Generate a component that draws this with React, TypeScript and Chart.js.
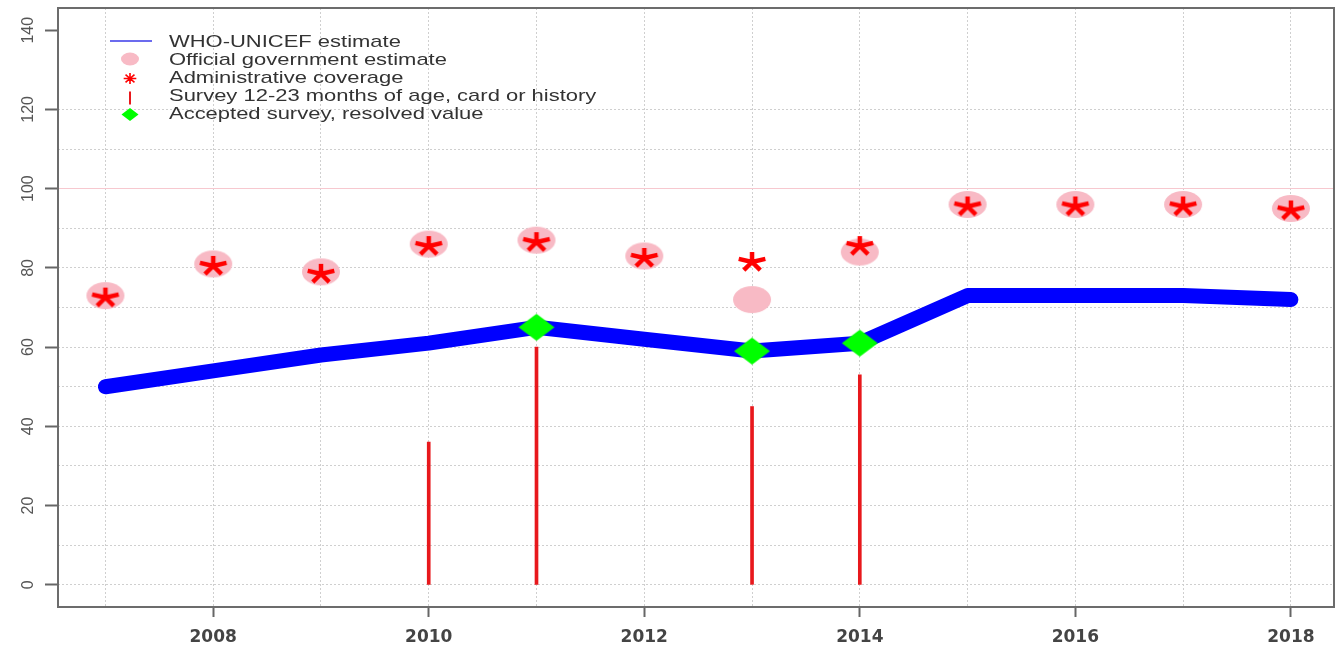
import React, { useEffect, useRef } from 'react';
import { Chart, registerables } from 'chart.js';

Chart.register(...registerables);

// ---------- data ----------
const years = [2007, 2008, 2009, 2010, 2011, 2012, 2013, 2014, 2015, 2016, 2017, 2018];
const whoUnicefEstimate = [50, 54, 58, 61, 65, 62, 59, 61, 73, 73, 73, 72];
const officialGovEstimate = [73, 81, 79, 86, 87, 83, 72, 84, 96, 96, 96, 95];
const adminCoverage = [73, 81, 79, 86, 87, 83, 82, 86, 96, 96, 96, 95];
const surveyYears = [2010, 2011, 2013, 2014];
const surveyValues = [36, 60, 45, 53];
const acceptedYears = [2011, 2013, 2014];
const acceptedValues = [65, 59, 61];
const yTickValues = [0, 10, 20, 30, 40, 50, 60, 70, 80, 90, 100, 110, 120, 130, 140];
const yLabelValues = [0, 20, 40, 60, 80, 100, 120, 140];
const xLabelYears = [2008, 2010, 2012, 2014, 2016, 2018];
const gridMaxY = 120;
const referenceLineY = 100;
const seriesLabels = [
  'WHO-UNICEF estimate',
  'Official government estimate',
  'Administrative coverage',
  'Survey 12-23 months of age, card or history',
  'Accepted survey, resolved value',
];

// ---------- styles ----------
const BLUE = '#0000ff';
const PINK = '#f8bac5';
const RED = '#ff0000';
const SURVEY_RED = '#e8181c';
const GREEN = '#00ff00';
const STRETCH = 1.4;

function makeEllipse(rx: number, ry: number, color: string) {
  const c = document.createElement('canvas');
  c.width = Math.ceil(rx * 2 + 2);
  c.height = Math.ceil(ry * 2 + 2);
  const g = c.getContext('2d')!;
  g.fillStyle = color;
  g.beginPath();
  g.ellipse(c.width / 2, c.height / 2, rx, ry, 0, 0, Math.PI * 2);
  g.fill();
  return c;
}

function drawAsteriskPath(g: CanvasRenderingContext2D, cx: number, cy: number, r: number, sx: number, rays: number, startDeg: number) {
  g.beginPath();
  for (let i = 0; i < rays; i++) {
    const a = ((startDeg + (360 / rays) * i) * Math.PI) / 180;
    g.moveTo(cx, cy);
    g.lineTo(cx + Math.cos(a) * r * sx, cy + Math.sin(a) * r);
  }
  g.stroke();
}

function makeAsterisk(r: number, sx: number, lw: number, color: string, dy: number) {
  const c = document.createElement('canvas');
  const w = Math.ceil(2 * r * sx + lw * 2 + 2);
  const h = Math.ceil(2 * r + lw * 2 + 2 + Math.abs(dy) * 2);
  c.width = w % 2 ? w + 1 : w;
  c.height = h % 2 ? h + 1 : h;
  const g = c.getContext('2d')!;
  g.strokeStyle = color;
  g.lineWidth = lw;
  g.lineCap = 'butt';
  drawAsteriskPath(g, c.width / 2, c.height / 2 + dy, r, sx, 5, -90);
  return c;
}

function makeDiamond(hw: number, hh: number, color: string) {
  const c = document.createElement('canvas');
  c.width = Math.ceil(hw * 2 + 2);
  c.height = Math.ceil(hh * 2 + 2);
  const g = c.getContext('2d')!;
  const cx = c.width / 2, cy = c.height / 2;
  g.fillStyle = color;
  g.beginPath();
  g.moveTo(cx, cy - hh);
  g.lineTo(cx + hw, cy);
  g.lineTo(cx, cy + hh);
  g.lineTo(cx - hw, cy);
  g.closePath();
  g.fill();
  return c;
}

const legendPlugin = {
  id: 'insideLegend',
  afterDraw(chart: any) {
    const ctx: CanvasRenderingContext2D = chart.ctx;
    const symX = 130;
    const textX = 169;
    const rows = [42.5, 60.5, 78.5, 96.5, 114.5];
    const labels = chart.data.datasets.map((d: any) => d.label);
    ctx.save();
    ctx.strokeStyle = '#3a3ae8';
    ctx.lineWidth = 1.5;
    ctx.beginPath();
    ctx.moveTo(110, rows[0] - 1.5);
    ctx.lineTo(152, rows[0] - 1.5);
    ctx.stroke();
    ctx.fillStyle = PINK;
    ctx.beginPath();
    ctx.ellipse(symX, rows[1] - 1.5, 9, 6.5, 0, 0, Math.PI * 2);
    ctx.fill();
    ctx.strokeStyle = RED;
    ctx.lineWidth = 1.6;
    drawAsteriskPath(ctx, symX, rows[2], 5.5, 1.15, 8, 0);
    ctx.strokeStyle = SURVEY_RED;
    ctx.lineWidth = 2;
    ctx.beginPath();
    ctx.moveTo(symX, rows[3] - 5);
    ctx.lineTo(symX, rows[3] + 8);
    ctx.stroke();
    ctx.fillStyle = GREEN;
    ctx.beginPath();
    ctx.moveTo(symX, rows[4] - 6.5);
    ctx.lineTo(symX + 8.5, rows[4]);
    ctx.lineTo(symX, rows[4] + 6.5);
    ctx.lineTo(symX - 8.5, rows[4]);
    ctx.closePath();
    ctx.fill();
    ctx.fillStyle = '#333333';
    ctx.font = '15.7px "Liberation Sans", Arial, sans-serif';
    ctx.textBaseline = 'middle';
    ctx.textAlign = 'left';
    labels.forEach((t: string, i: number) => {
      ctx.save();
      ctx.translate(textX, rows[i]);
      ctx.scale(STRETCH, 1);
      ctx.fillText(t, 0, 0);
      ctx.restore();
    });
    ctx.restore();
  },
};

const boxPlugin = {
  id: 'plotBox',
  afterDraw(chart: any) {
    const { ctx, chartArea } = chart;
    ctx.save();
    ctx.strokeStyle = '#6c6c6c';
    ctx.lineWidth = 2;
    ctx.strokeRect(chartArea.left, chartArea.top, chartArea.right - chartArea.left, chartArea.bottom - chartArea.top);
    ctx.restore();
  },
};

export default function App() {
  const ref = useRef<HTMLCanvasElement | null>(null);

  useEffect(() => {
    document.body.style.margin = '0';
    const canvas = ref.current!;
    const ellipseImg = makeEllipse(19, 13.5, PINK);
    const asteriskImg = makeAsterisk(10, STRETCH, 4.5, RED, 2);
    const diamondImg = makeDiamond(18, 13.5, GREEN);

    const chart = new Chart(canvas, {
      type: 'line',
      data: {
        datasets: [
          {
            label: seriesLabels[0],
            type: 'line',
            data: years.map((x, i) => ({ x, y: whoUnicefEstimate[i] })),
            borderColor: BLUE,
            backgroundColor: BLUE,
            borderWidth: 15,
            borderCapStyle: 'round',
            borderJoinStyle: 'round',
            pointRadius: 0,
            fill: false,
            tension: 0,
            order: 2,
          },
          {
            label: seriesLabels[1],
            type: 'scatter',
            data: years.map((x, i) => ({ x, y: officialGovEstimate[i] })),
            pointStyle: ellipseImg as any,
            pointRadius: 10,
            showLine: false,
            order: 4,
          },
          {
            label: seriesLabels[2],
            type: 'scatter',
            data: years.map((x, i) => ({ x, y: adminCoverage[i] })),
            pointStyle: asteriskImg as any,
            pointRadius: 10,
            showLine: false,
            order: 3,
          },
          {
            label: seriesLabels[3],
            type: 'bar',
            data: surveyYears.map((x, i) => ({ x, y: surveyValues[i] })) as any,
            backgroundColor: SURVEY_RED,
            barThickness: 3,
            borderWidth: 0,
            order: 5,
          },
          {
            label: seriesLabels[4],
            type: 'scatter',
            data: acceptedYears.map((x, i) => ({ x, y: acceptedValues[i] })),
            pointStyle: diamondImg as any,
            pointRadius: 10,
            showLine: false,
            order: 1,
          },
        ] as any,
      },
      options: {
        responsive: false,
        animation: false,
        events: [],
        layout: { autoPadding: false, padding: { top: 8, right: 4, left: 0, bottom: 0 } },
        plugins: {
          legend: { display: false },
          tooltip: { enabled: false },
          title: { display: false },
        },
        scales: {
          x: {
            type: 'linear',
            offset: false,
            min: 2006.56,
            max: 2018.4,
            afterBuildTicks: (s: any) => {
              s.ticks = years.map((v) => ({ value: v }));
            },
            afterFit: (s: any) => {
              s.height = 42;
              s.paddingLeft = 0;
              s.paddingRight = 0;
            },
            ticks: {
              autoSkip: false,
              maxRotation: 0,
              minRotation: 0,
              padding: 10,
              color: '#444444',
              font: { family: '"DejaVu Sans", sans-serif', size: 17, weight: 'bold' },
              callback: (v: any) => (xLabelYears.includes(Number(v)) ? String(v) : ''),
            },
            grid: {
              offset: false,
              color: '#cfcfcf',
              lineWidth: 1,
              drawTicks: true,
              tickLength: 10,
              tickWidth: 2,
              tickColor: (c: any) => (c.tick && xLabelYears.includes(c.tick.value) ? '#666666' : 'rgba(0,0,0,0)'),
            },
            border: { display: false, dash: [2, 2] },
          },
          y: {
            type: 'linear',
            offset: false,
            min: -5.6,
            max: 145.6,
            afterBuildTicks: (s: any) => {
              s.ticks = yTickValues.map((v) => ({ value: v }));
            },
            afterFit: (s: any) => {
              s.width = 58;
              s.paddingTop = 0;
              s.paddingBottom = 0;
            },
            ticks: {
              autoSkip: false,
              minRotation: 90,
              maxRotation: 90,
              crossAlign: 'center',
              padding: 3,
              color: '#555555',
              font: { family: '"Liberation Sans", Arial, sans-serif', size: 16 },
              callback: (v: any) => (yLabelValues.includes(Number(v)) ? String(v) : ''),
            },
            grid: {
              offset: false,
              color: (c: any) => {
                const v = c.tick ? c.tick.value : 0;
                if (v === referenceLineY) return '#f7c8cf';
                if (v > gridMaxY) return 'rgba(0,0,0,0)';
                return '#cfcfcf';
              },
              lineWidth: 1,
              drawTicks: true,
              tickLength: 13,
              tickWidth: 2,
              tickColor: (c: any) => (c.tick && yLabelValues.includes(c.tick.value) ? '#666666' : 'rgba(0,0,0,0)'),
            },
            border: {
              display: false,
              dash: (c: any) => (c.tick && c.tick.value === referenceLineY ? [] : [2, 2]),
            },
          },
        },
      } as any,
      plugins: [boxPlugin, legendPlugin],
    });
    return () => chart.destroy();
  }, []);

  return (
    <div style={{ width: 1338, height: 649 }}>
      <canvas ref={ref} width={1338} height={649} style={{ display: 'block' }} />
    </div>
  );
}
